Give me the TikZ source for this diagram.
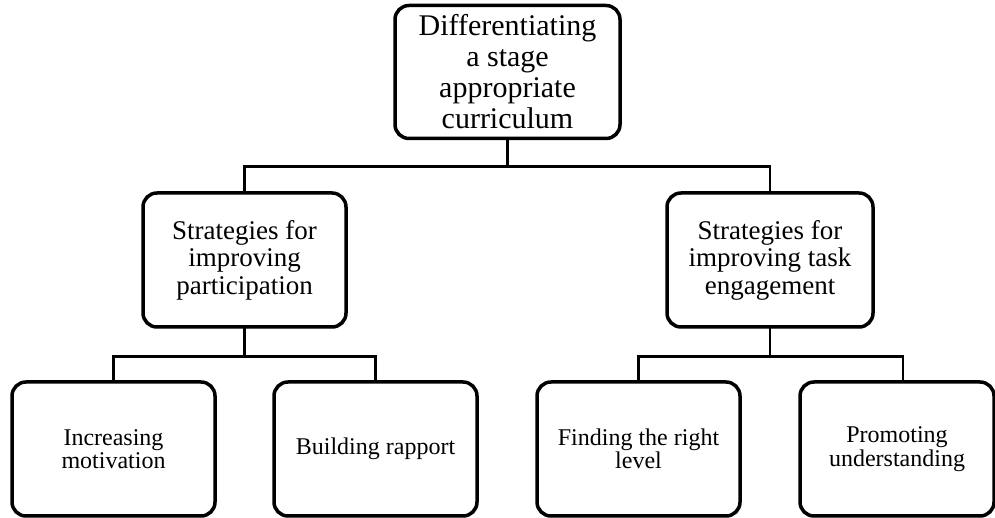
\documentclass[tikz,border=0pt]{standalone}
\usepackage{fontspec}
\setmainfont{Liberation Serif}
\usepackage{tikz}
\usetikzlibrary{shadows}

\tikzset{
    box/.style={draw=black, line width=3.5pt, rounded corners=14pt, fill=white,
        align=center, inner sep=0pt,
        drop shadow={opacity=0.25, shadow xshift=1.5pt, shadow yshift=-1.5pt}},
    topbox/.style={box, minimum width=225pt, minimum height=133pt,
        font=\fontsize{30}{31}\selectfont},
    midbox/.style={box, minimum width=203pt, minimum height=134pt,
        font=\fontsize{27}{27.5}\selectfont},
    lowbox/.style={box, minimum width=203pt, minimum height=134pt,
        font=\fontsize{24}{23.5}\selectfont},
    link/.style={line width=2.5pt, line cap=rect}
}

\begin{document}
\begin{tikzpicture}[x=1pt, y=1pt]

\useasboundingbox (0,0) rectangle (995,518);

    %boxes
    \node[topbox] (curr) at (507.5,446) {Differentiating\\a stage\\appropriate\\curriculum};

    \node[midbox] (part) at (244.5,258) {Strategies for\\improving\\participation};
    \node[midbox, minimum width=206pt] (task) at (770,258) {Strategies for\\improving task\\engagement};

    \node[lowbox] (motiv) at (113.5,69) {Increasing\\motivation};
    \node[lowbox] (rapp) at (375.5,69) {Building rapport};
    \node[lowbox] (level) at (638.5,69) {Finding the right\\level};
    \node[lowbox, minimum width=194pt] (under) at (897,69) {Promoting\\understanding};

    %connectors
    \draw[link] (curr.south) -- ++(0,-26.5) -| (part.north);
    \draw[link] (curr.south) -- ++(0,-26.5) -| (task.north);

    \draw[link] (part.south) -- ++(0,-28) -| (motiv.north);
    \draw[link] (part.south) -- ++(0,-28) -| (rapp.north);

    \draw[link] (task.south) -- ++(0,-28) -| (level.north);
    \draw[link] (task.south) -- ++(0,-28) -| ([xshift=6pt]under.north);

\end{tikzpicture}
\end{document}
